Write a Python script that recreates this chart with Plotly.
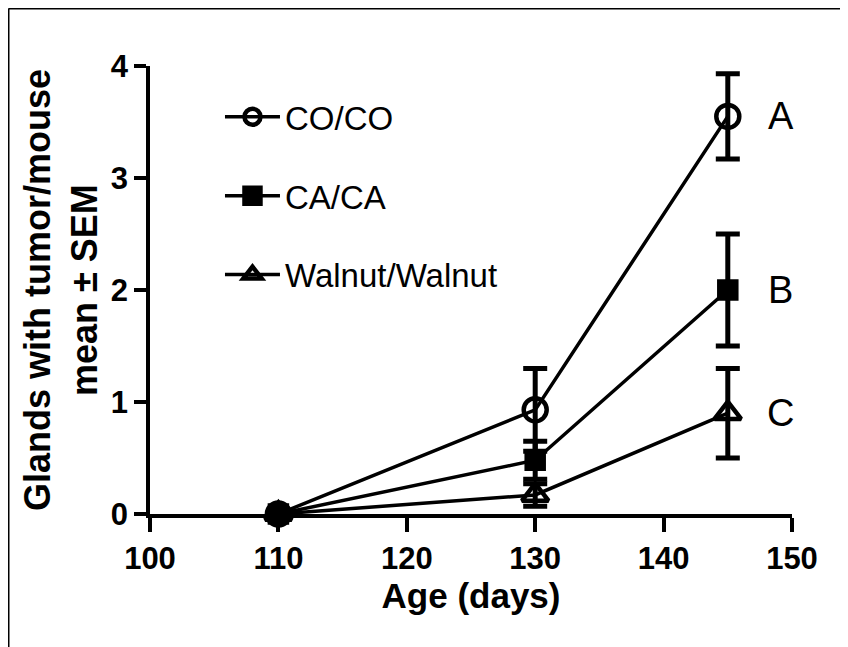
import plotly.graph_objects as go

# ---- data ----
age_days = [110, 130, 145]
series_names = ["CO/CO", "CA/CA", "Walnut/Walnut"]
co_mean = [0.0, 0.93, 3.55]
co_sem = [0.0, 0.37, 0.38]
ca_mean = [0.0, 0.48, 2.0]
ca_sem = [0.0, 0.17, 0.5]
walnut_mean = [0.0, 0.17, 0.9]
walnut_sem = [0.0, 0.1, 0.4]
group_letters = ["A", "B", "C"]
x_ticks = [100, 110, 120, 130, 140, 150]
y_ticks = [0, 1, 2, 3, 4]

FONT = "Arial, Liberation Sans, sans-serif"

means = [co_mean, ca_mean, walnut_mean]
sems = [co_sem, ca_sem, walnut_sem]
symbols = ["circle-open", "square", "triangle-up-open"]
sizes = [23, 17, 23]

fig = go.Figure()
for i, name in enumerate(series_names):
    fig.add_trace(go.Scatter(
        x=age_days, y=means[i], name=name, mode="lines+markers",
        legendgroup=name,
        line=dict(color="black", width=3.5),
        marker=dict(symbol=symbols[i], size=sizes[i], color="black",
                    line=dict(color="black", width=4.5)),
        error_y=dict(type="data", array=sems[i], visible=True,
                     color="black", thickness=5, width=12),
        cliponaxis=False,
    ))

for i, letter in enumerate(group_letters):
    fig.add_annotation(x=age_days[-1], y=means[i][-1], text=letter,
                       showarrow=False, xshift=53,
                       font=dict(family=FONT, size=38, color="black"))

# y-axis title (two lines)
fig.add_annotation(xref="paper", yref="paper", x=-0.1385, y=0.5,
                   text="<b>Glands with tumor/mouse<br>mean \u00b1 SEM</b>",
                   textangle=-90, showarrow=False, xanchor="center", yanchor="middle",
                   font=dict(family=FONT, size=36, color="black"))

# outer frame (top and left edges)
fig.add_shape(type="line", xref="paper", yref="paper",
              x0=-0.2204, x1=1.2, y0=1.1283, y1=1.1283,
              line=dict(color="black", width=2))
fig.add_shape(type="line", xref="paper", yref="paper",
              x0=-0.2204, x1=-0.2204, y0=1.1283, y1=-0.35,
              line=dict(color="black", width=2))

fig.update_layout(
    width=840, height=639,
    margin=dict(l=142, r=56, t=58, b=133),
    paper_bgcolor="white", plot_bgcolor="white",
    font=dict(family=FONT, color="black"),
    showlegend=True,
    legend=dict(x=0.109, y=0.949, xanchor="left", yanchor="top",
                font=dict(family=FONT, size=33, color="black"),
                bgcolor="rgba(0,0,0,0)", tracegroupgap=33,
                itemwidth=55),
    xaxis=dict(range=[100, 150], tickvals=x_ticks, showgrid=False, zeroline=False,
               showline=True, linecolor="black", linewidth=3.5,
               ticks="outside", ticklen=14, tickwidth=3.5, tickcolor="black",
               tickfont=dict(family=FONT, size=31, weight="bold"),
               title=dict(text="<b>Age (days)</b>", font=dict(family=FONT, size=35),
                          standoff=10)),
    yaxis=dict(range=[0, 4], tickvals=y_ticks, showgrid=False, zeroline=False,
               showline=True, linecolor="black", linewidth=3.5,
               ticks="outside", ticklen=12, tickwidth=3.5, tickcolor="black",
               tickfont=dict(family=FONT, size=31, weight="bold")),
)

fig.write_html("out.html")
